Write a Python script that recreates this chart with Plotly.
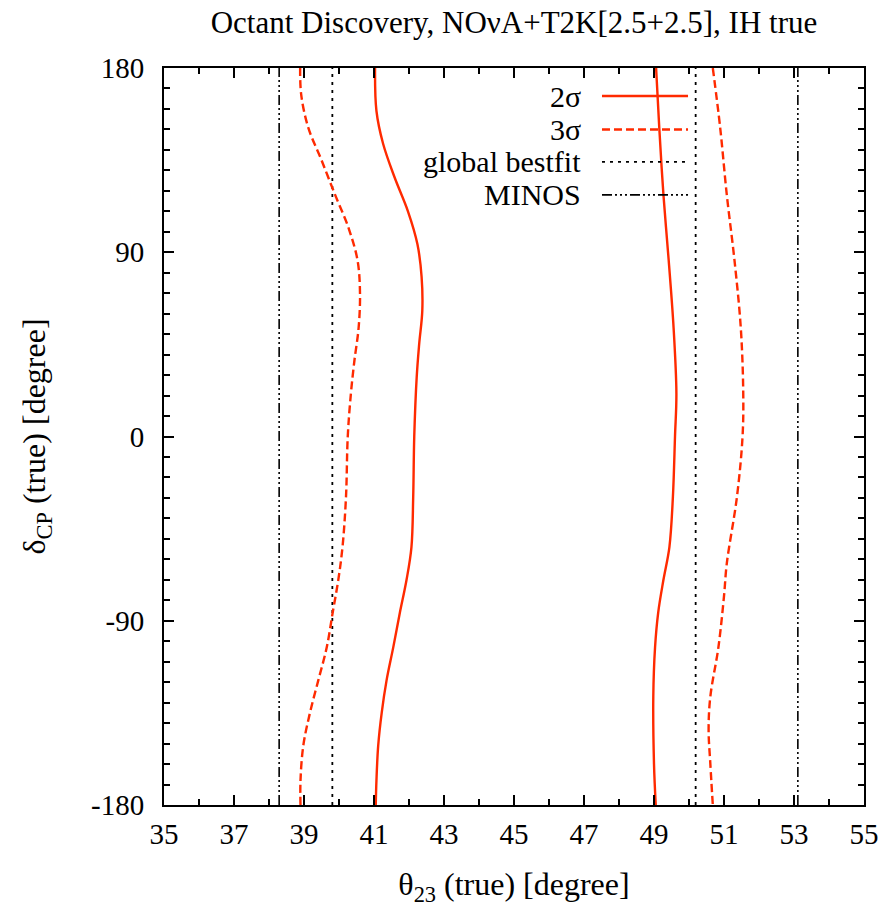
import plotly.graph_objects as go

# ---------------- data ----------------
# 2 sigma contour, lower octant side (theta23 in degrees vs deltaCP in degrees)
delta_2s_left = [180, 159, 143, 126.5, 110, 94, 78, 61.5, 45, 29, 0, -29.5, -54, -70, -86, -103, -119, -135, -151, -168, -180]
theta_2s_left = [41.03, 41.07, 41.26, 41.59, 41.97, 42.24, 42.36, 42.38, 42.29, 42.22, 42.15, 42.12, 42.07, 41.93, 41.74, 41.55, 41.36, 41.22, 41.12, 41.07, 41.05]

# 3 sigma contour, lower octant side
delta_3s_left = [180, 167, 151, 135, 118, 102, 86, 70, 53, 37, 21, 0, -29.5, -54, -70, -86, -103, -119, -135, -151, -168, -180]
theta_3s_left = [38.89, 38.92, 39.12, 39.50, 39.89, 40.27, 40.53, 40.60, 40.56, 40.44, 40.34, 40.25, 40.20, 40.10, 39.98, 39.82, 39.65, 39.41, 39.17, 38.98, 38.90, 38.90]

# 2 sigma contour, higher octant side
delta_2s_right = [180, 151, 118, 86, 53, 21, 0, -29.5, -54, -70, -86, -103, -127, -160, -180]
theta_2s_right = [49.06, 49.15, 49.27, 49.42, 49.56, 49.64, 49.60, 49.54, 49.44, 49.27, 49.12, 49.03, 48.98, 49.00, 49.05]

# 3 sigma contour, higher octant side
delta_3s_right = [180, 151, 118, 86, 53, 21, 0, -29.5, -62, -78, -103, -127, -143, -160, -180]
theta_3s_right = [50.68, 50.89, 51.08, 51.30, 51.48, 51.55, 51.53, 51.37, 51.08, 51.00, 50.84, 50.61, 50.56, 50.61, 50.68]

# vertical reference lines
bestfit_theta = [39.81, 50.19]
minos_theta = [38.29, 53.11]
delta_range = [-180, 180]

# ticks
x_tick_vals = [35, 37, 39, 41, 43, 45, 47, 49, 51, 53, 55]
x_tick_text = ["35", "37", "39", "41", "43", "45", "47", "49", "51", "53", "55"]
y_tick_vals = [-180, -90, 0, 90, 180]
y_tick_text = ["-180", "-90", "0", "90", "180"]

legend_labels = ["2σ", "3σ", "global bestfit", "MINOS"]

# ---------------- styles ----------------
RED = "#ff2a00"
FONT = "Liberation Serif"
MINOS_DASH = "10px,3px,2px,3px,2px,3px,2px,3px"
TICK_SIZE = 29
TEXT_SIZE = 30
AXTITLE_SIZE = 32

fig = go.Figure()

for th in minos_theta:
    fig.add_trace(go.Scatter(x=[th, th], y=delta_range, mode="lines",
                             line=dict(color="black", width=1.6, dash=MINOS_DASH),
                             showlegend=False, hoverinfo="skip"))
for th in bestfit_theta:
    fig.add_trace(go.Scatter(x=[th, th], y=delta_range, mode="lines",
                             line=dict(color="black", width=1.8, dash="3px,5px"),
                             showlegend=False, hoverinfo="skip"))

for xs, ys in [(theta_3s_left, delta_3s_left), (theta_3s_right, delta_3s_right)]:
    fig.add_trace(go.Scatter(x=xs, y=ys, mode="lines",
                             line=dict(color=RED, width=2.4, dash="8px,4px", shape="spline", smoothing=1.0),
                             showlegend=False))
for xs, ys in [(theta_2s_left, delta_2s_left), (theta_2s_right, delta_2s_right)]:
    fig.add_trace(go.Scatter(x=xs, y=ys, mode="lines",
                             line=dict(color=RED, width=2.4, shape="spline", smoothing=1.0),
                             showlegend=False))

# ---------------- custom legend (text right-aligned, sample to the right) ----------------
leg_styles = [
    dict(color=RED, width=2.4, dash="solid"),
    dict(color=RED, width=2.4, dash="8px,4px"),
    dict(color="black", width=1.8, dash="3px,5px"),
    dict(color="black", width=1.6, dash=MINOS_DASH),
]
leg_y = [0.962, 0.9166, 0.8725, 0.8278]
for lab, st, yy in zip(legend_labels, leg_styles, leg_y):
    fig.add_annotation(x=0.5986, y=yy, xref="paper", yref="paper", text=lab,
                       showarrow=False, xanchor="right", yanchor="middle",
                       font=dict(family=FONT, size=TEXT_SIZE, color="black"))
    fig.add_shape(type="line", xref="paper", yref="paper",
                  x0=0.6257, x1=0.7486, y0=yy, y1=yy, line=st)

axis_common = dict(
    showgrid=False, zeroline=False, showline=True, linecolor="black", linewidth=2,
    mirror="allticks", ticks="inside", tickcolor="black", tickwidth=1.5,
    tickfont=dict(family=FONT, size=TICK_SIZE, color="black"),
)

fig.update_xaxes(range=[35, 55], tickmode="array", tickvals=x_tick_vals, ticktext=x_tick_text,
                 ticklen=10, ticklabelstandoff=2,
                 minor=dict(dtick=1, tick0=35, ticks="inside", ticklen=6, tickcolor="black", tickwidth=1.5),
                 title=dict(text="θ<sub>23</sub> (true) [degree]", font=dict(family=FONT, size=AXTITLE_SIZE, color="black"),
                            standoff=24),
                 **axis_common)
fig.update_yaxes(range=[-180, 180], tickmode="array", tickvals=y_tick_vals, ticktext=y_tick_text,
                 ticklen=10, ticklabelstandoff=12,
                 minor=dict(dtick=10, tick0=0, ticks="inside", ticklen=6, tickcolor="black", tickwidth=1.5),
                 title=dict(text="δ<sub>CP</sub> (true) [degree]", font=dict(family=FONT, size=AXTITLE_SIZE, color="black"),
                            standoff=36),
                 **axis_common)

fig.update_layout(
    width=895, height=907,
    margin=dict(l=156, r=39, t=60, b=110),
    paper_bgcolor="white", plot_bgcolor="white",
    title=dict(text="Octant Discovery, NOνA+T2K[2.5+2.5], IH true",
               x=0.5, xref="paper", xanchor="center",
               y=1 - 3 / 907, yref="container", yanchor="top", pad=dict(t=0),
               font=dict(family=FONT, size=31, color="black")),
    showlegend=False,
)

fig.write_html("out.html")
